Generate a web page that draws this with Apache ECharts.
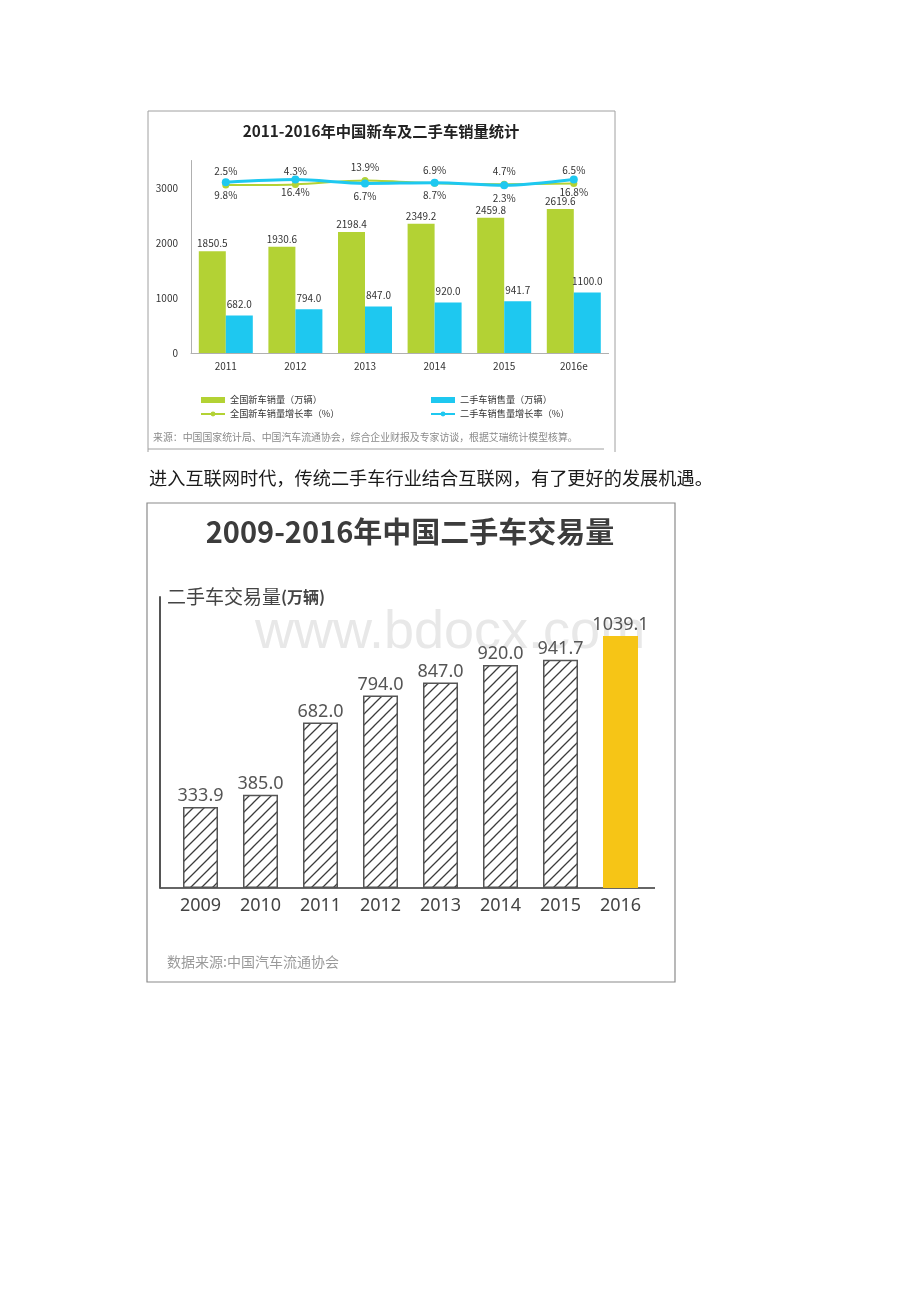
<!DOCTYPE html>
<html>
<head>
<meta charset="utf-8">
<script src="https://cdn.jsdelivr.net/npm/echarts@6/dist/echarts.min.js"></script>
<style>
html,body{margin:0;padding:0;background:#fff;}
#c{width:920px;height:1302px;}
</style>
</head>
<body>
<div id="c"></div>
<script>
// ---- Chart 1 data ----
const years1 = ['2011', '2012', '2013', '2014', '2015', '2016e'];
const newCarSales = [1850.5, 1930.6, 2198.4, 2349.2, 2459.8, 2619.6];
const usedCarSales = [682.0, 794.0, 847.0, 920.0, 941.7, 1100.0];
const newCarGrowth = [2.5, 4.3, 13.9, 6.9, 4.7, 6.5];
const usedCarGrowth = [9.8, 16.4, 6.7, 8.7, 2.3, 16.8];
const names1 = ['全国新车销量（万辆）', '二手车销售量（万辆）', '全国新车销量增长率（%）', '二手车销售量增长率（%）'];

// ---- Chart 2 data ----
const years2 = ['2009', '2010', '2011', '2012', '2013', '2014', '2015', '2016'];
const usedCarTrade = [333.9, 385.0, 682.0, 794.0, 847.0, 920.0, 941.7, 1039.1];

const GREEN = '#b3d234', BLUE = '#1ec8f0', YELLOW = '#f6c516';
const CJK = '"Noto Sans CJK SC", "Noto Sans", sans-serif';

// hatch pattern tile
function hatch() {
  const s = 11;
  const cv = document.createElement('canvas');
  cv.width = s; cv.height = s;
  const ctx = cv.getContext('2d');
  ctx.fillStyle = '#fff';
  ctx.fillRect(0, 0, s, s);
  ctx.strokeStyle = '#3c3c3c';
  ctx.lineWidth = 1.3;
  ctx.beginPath();
  ctx.moveTo(-1, s + 1); ctx.lineTo(s + 1, -1);
  ctx.moveTo(-1, 1); ctx.lineTo(1, -1);
  ctx.moveTo(s - 1, s + 1); ctx.lineTo(s + 1, s - 1);
  ctx.stroke();
  return cv;
}
const pattern = { image: hatch(), repeat: 'repeat' };

const chart = echarts.init(document.getElementById('c'), null, { renderer: 'canvas' });

const lastIdx = usedCarTrade.length - 1;
const tradeData = usedCarTrade.map((v, i) => i === lastIdx
  ? { value: v, itemStyle: { color: YELLOW, borderWidth: 0 } }
  : v);

const option = {
  animation: false,
  backgroundColor: '#fff',
  textStyle: { fontFamily: CJK },
  grid: [
    { left: 191, top: 160.5, width: 417.6, height: 192.5, containLabel: false },
    { left: 170.5, top: 597, width: 480, height: 291, containLabel: false }
  ],
  legend: [
    {
      left: 195, top: 389, orient: 'vertical', itemWidth: 24, itemHeight: 6, itemGap: 2,
      textStyle: { fontSize: 9.2, color: '#333', lineHeight: 12, fontFamily: CJK },
      data: [{ name: names1[0], icon: 'rect' }, names1[2]]
    },
    {
      left: 425, top: 389, orient: 'vertical', itemWidth: 24, itemHeight: 6, itemGap: 2,
      textStyle: { fontSize: 9.2, color: '#333', lineHeight: 12, fontFamily: CJK },
      data: [{ name: names1[1], icon: 'rect' }, names1[3]]
    }
  ],
  xAxis: [
    {
      type: 'category', gridIndex: 0, data: years1,
      axisLine: { lineStyle: { color: '#b0b0b0', width: 1 } },
      axisTick: { show: false },
      axisLabel: { fontSize: 10, color: '#333', margin: 8, fontFamily: CJK }
    },
    {
      type: 'category', gridIndex: 1, data: years2,
      axisLine: { show: false },
      axisTick: { show: false },
      axisLabel: { fontSize: 18, color: '#444', margin: 9, fontFamily: '"Noto Sans", sans-serif' }
    }
  ],
  yAxis: [
    {
      type: 'value', gridIndex: 0, min: 0, max: 3500, interval: 1000,
      axisLine: { show: true, lineStyle: { color: '#b0b0b0', width: 1 } },
      axisTick: { show: false },
      splitLine: { show: false },
      axisLabel: { fontSize: 10, color: '#333', margin: 13, showMaxLabel: false, fontFamily: CJK,
        formatter: v => String(v) }
    },
    {
      type: 'value', gridIndex: 0, min: -417, max: 64, show: false,
      splitLine: { show: false }
    },
    {
      type: 'value', gridIndex: 1, min: 0, max: 1200, offset: 10.5,
      axisLine: { show: true, lineStyle: { color: '#555', width: 2 } },
      axisTick: { show: false },
      axisLabel: { show: false },
      splitLine: { show: false }
    }
  ],
  series: [
    {
      name: names1[0], type: 'bar', xAxisIndex: 0, yAxisIndex: 0,
      data: newCarSales, barWidth: 27, barGap: '0%',
      itemStyle: { color: GREEN },
      label: { show: true, position: 'top', distance: 3, fontSize: 10, color: '#333',
        formatter: p => p.value.toFixed(1) }
    },
    {
      name: names1[1], type: 'bar', xAxisIndex: 0, yAxisIndex: 0,
      data: usedCarSales, barWidth: 27, barGap: '0%',
      itemStyle: { color: BLUE },
      label: { show: true, position: 'top', distance: 6, fontSize: 10, color: '#333',
        formatter: p => p.value.toFixed(1) }
    },
    {
      name: names1[2], type: 'line', xAxisIndex: 0, yAxisIndex: 1,
      data: newCarGrowth, smooth: 0.3, z: 3,
      symbol: 'circle', symbolSize: 7,
      lineStyle: { color: GREEN, width: 2 },
      itemStyle: { color: GREEN },
      label: { show: true, position: 'top', distance: 5, fontSize: 10, color: '#333',
        formatter: p => p.value.toFixed(1) + '%' }
    },
    {
      name: names1[3], type: 'line', xAxisIndex: 0, yAxisIndex: 1,
      data: usedCarGrowth, smooth: 0.3, z: 4,
      symbol: 'circle', symbolSize: 8,
      lineStyle: { color: BLUE, width: 3 },
      itemStyle: { color: BLUE },
      label: { show: true, position: 'bottom', distance: 4, fontSize: 10, color: '#333',
        formatter: p => p.value.toFixed(1) + '%' }
    },
    {
      name: '二手车交易量', type: 'bar', xAxisIndex: 1, yAxisIndex: 2,
      data: tradeData, barWidth: 35, z: 3,
      itemStyle: { color: pattern, borderColor: '#555', borderWidth: 1.5 },
      label: { show: true, position: 'top', distance: 2, fontSize: 18, color: '#555',
        fontFamily: '"Noto Sans", sans-serif',
        formatter: p => p.value.toFixed(1) }
    }
  ],
  graphic: [
    // chart 1 frame
    { type: 'line', shape: { x1: 148, y1: 111, x2: 615, y2: 111 }, style: { stroke: '#a0a0a0', lineWidth: 1 } },
    { type: 'line', shape: { x1: 148, y1: 111, x2: 148, y2: 452 }, style: { stroke: '#a0a0a0', lineWidth: 1 } },
    { type: 'line', shape: { x1: 615, y1: 111, x2: 615, y2: 452 }, style: { stroke: '#a0a0a0', lineWidth: 1 } },
    { type: 'line', shape: { x1: 148, y1: 449, x2: 604, y2: 449 }, style: { stroke: '#a0a0a0', lineWidth: 1 } },
    { type: 'text', x: 381, y: 131, style: { text: '2011-2016年中国新车及二手车销量统计', fill: '#222',
        font: 'bold 15.3px ' + CJK, textAlign: 'center', textVerticalAlign: 'middle' } },
    { type: 'text', x: 153, y: 437, style: { text: '来源：中国国家统计局、中国汽车流通协会，综合企业财报及专家访谈，根据艾瑞统计模型核算。',
        fill: '#8a8a8a', font: '9.9px ' + CJK, textAlign: 'left', textVerticalAlign: 'middle' } },
    // paragraph
    { type: 'text', x: 149, y: 478, style: { text: '进入互联网时代，传统二手车行业结合互联网，有了更好的发展机遇。',
        fill: '#1a1a1a', font: '18.2px ' + CJK, textAlign: 'left', textVerticalAlign: 'middle' } },
    // chart 2 frame
    { type: 'rect', shape: { x: 147, y: 503, width: 528, height: 479 }, style: { fill: 'none', stroke: '#8a8a8a', lineWidth: 1.2 } },
    { type: 'text', x: 410, y: 532, style: { text: '2009-2016年中国二手车交易量', fill: '#3c3c3c',
        font: 'bold 29px ' + CJK, textAlign: 'center', textVerticalAlign: 'middle' } },
    { type: 'text', x: 255, y: 633, z: -1, style: { text: 'www.bdocx.com', fill: '#e8e8e8',
        font: '54px "Liberation Sans", sans-serif', textAlign: 'left', textVerticalAlign: 'middle' } },
    { type: 'text', x: 167, y: 597, style: {
        text: '{a|二手车交易量}{b|(万辆)}', textAlign: 'left', textVerticalAlign: 'middle',
        rich: {
          a: { fontSize: 19, fontFamily: CJK, fill: '#444', color: '#444' },
          b: { fontSize: 16, fontWeight: 'bold', fontFamily: CJK, fill: '#444', color: '#444' }
        } } },
    { type: 'line', shape: { x1: 160, y1: 888, x2: 655, y2: 888 }, style: { stroke: '#666', lineWidth: 2 } },
    { type: 'text', x: 167, y: 962, style: { text: '数据来源:中国汽车流通协会', fill: '#9a9a9a',
        font: '14px ' + CJK, textAlign: 'left', textVerticalAlign: 'middle' } }
  ]
};
chart.setOption(option);
</script>
</body>
</html>
